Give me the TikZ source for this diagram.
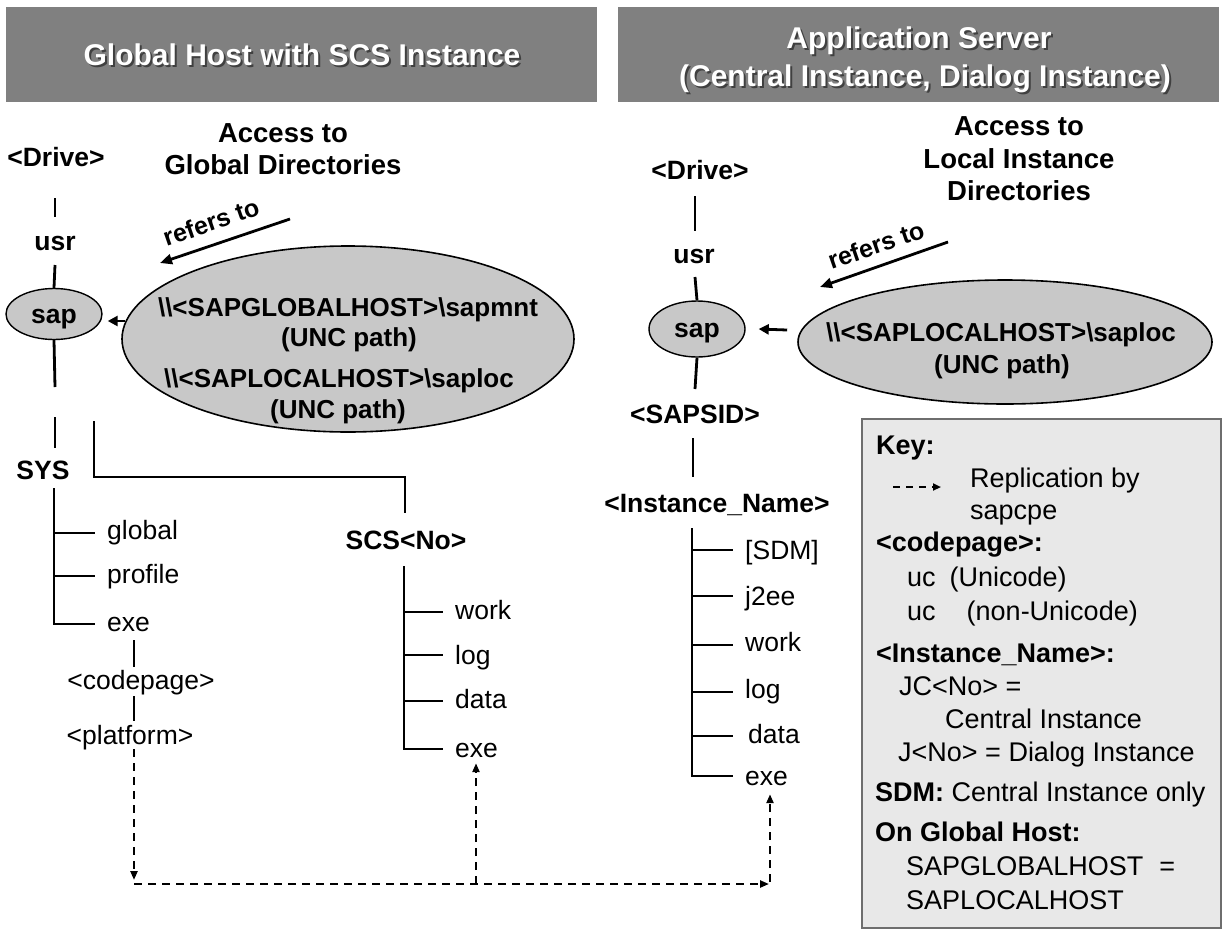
\documentclass[tikz,border=0pt]{standalone}
\usepackage{fontspec}
\setmainfont{Liberation Sans}
\usetikzlibrary{arrows.meta,shapes.geometric}
\definecolor{hdrgray}{HTML}{808080}
\definecolor{ellgray}{HTML}{C8C8C8}
\definecolor{keyfill}{HTML}{E8E8E8}
\definecolor{keyborder}{HTML}{6E6E6E}
\tikzset{
  base/.style={inner sep=0pt, text height=20pt, text depth=4pt},
  lbl/.style={base, font=\fontsize{26.5}{30}\selectfont\bfseries},
  txt/.style={base, font=\fontsize{26.5}{30}\selectfont},
  acc/.style={base, font=\fontsize{27.5}{30}\selectfont\bfseries},
  etxt/.style={base, font=\fontsize{26}{30}\selectfont\bfseries},
  ktxt/.style={base, anchor=west, font=\fontsize{27}{30}\selectfont},
  kbold/.style={base, anchor=west, font=\fontsize{27}{30}\selectfont\bfseries},
  hdr/.style={base, font=\fontsize{30}{34}\selectfont\bfseries, text=white},
  hdrsh/.style={base, font=\fontsize{30}{34}\selectfont\bfseries, text=black!75},
  hdrbox/.style={fill=hdrgray, draw=none},
  tline/.style={line width=2.8pt},
  smallell/.style={ellipse, draw, line width=1.4pt, fill=ellgray, inner sep=0pt},
  bigell/.style={ellipse, draw, line width=1.6pt, fill=ellgray, inner sep=0pt},
  refarr/.style={line width=2.8pt, -{Triangle[length=12pt,width=10pt]}},
  samarr/.style={line width=2.8pt, -{Triangle[length=10pt,width=10pt]}},
  reparr/.style={line width=2.4pt, dash pattern=on 8pt off 6pt, -{Triangle[length=9pt,width=7pt]}},
  reftxt/.style={inner sep=0pt, font=\fontsize{25}{30}\selectfont\bfseries, rotate=19},
}
\newcommand{\bs}{\textbackslash}
\begin{document}
\begin{tikzpicture}[x=1pt,y=-1pt]
\useasboundingbox (0,0) rectangle (1222,929);
\fill[white] (0,0) rectangle (1222,929);

% headers
\fill[hdrbox] (6,7) rectangle (597,102);
\fill[hdrbox] (618,7) rectangle (1219,102);
\node[hdrsh] (h1s) at (304,59) {Global Host with SCS Instance};
\node[hdr] (h1) at (302,57) {Global Host with SCS Instance};
\node[hdrsh] (h2as) at (921,42) {Application Server};
\node[hdr] (h2a) at (919,40) {Application Server};
\node[hdrsh] (h2bs) at (927,80) {(Central Instance, Dialog Instance)};
\node[hdr] (h2b) at (925,78) {(Central Instance, Dialog Instance)};

% ---------------- left side ----------------
\node[lbl] (drive1) at (56,158) {<Drive>};
\node[acc] (acc1a) at (283,134) {Access to};
\node[acc] (acc1b) at (283,166) {Global Directories};
\node[lbl] (usr1) at (55,242) {usr};
\node[smallell, minimum width=96pt, minimum height=51pt] (sap1) at (54,314) {};
\node[lbl] (sap1t) at (54,315) {sap};
\node[lbl] (sys) at (43,471) {SYS};

\coordinate (l1a) at (55,198); \coordinate (l1b) at (55,217);
\coordinate (l2a) at (55,265);
\coordinate (l3b) at (55,387);
\coordinate (l4a) at (55,417); \coordinate (l4b) at (55,448);
\draw[tline] (l1a) -- (l1b);
\draw[tline] (l2a) -- (sap1.north);
\draw[tline] (sap1.south) -- (l3b);
\draw[tline] (l4a) -- (l4b);

% big ellipse
\node[bigell, minimum width=452pt, minimum height=186pt] (E1) at (348,339) {};
\node[etxt] (e1a) at (348,308) {\bs\bs<SAPGLOBALHOST>\bs sapmnt};
\node[etxt] (e1b) at (349,338) {(UNC path)};
\node[etxt] (e1c) at (339,379) {\bs\bs<SAPLOCALHOST>\bs saploc};
\node[etxt] (e1d) at (338,410) {(UNC path)};
\draw[samarr] ([xshift=4pt,yshift=18pt]E1.west) -- ([xshift=5pt,yshift=-7pt]sap1.east);

% refers to (left)
\coordinate (r1s) at (290,219); \coordinate (r1e) at (160,263);
\draw[refarr] (r1s) -- (r1e);
\node[reftxt] (ref1) at (211,222) {refers to};

% SYS subtree
\coordinate (s0) at (54,488); \coordinate (s3) at (54,624);
\draw[tline] (s0) -- (s3) -- (95,624);
\draw[tline] (54,533) -- (95,533);
\draw[tline] (54,576) -- (95,576);
\node[txt, anchor=west] (global) at (107,531) {global};
\node[txt, anchor=west] (profile) at (107,575) {profile};
\node[txt, anchor=west] (exe1) at (107,623) {exe};
\draw[tline] (134,640) -- (134,667);
\node[txt] (codepage) at (141,681) {<codepage>};
\draw[tline] (134,696) -- (134,721);
\node[txt] (platform) at (130,736) {<platform>};

% SCS branch
\coordinate (b0) at (94,421); \coordinate (b1) at (94,477);
\coordinate (b2) at (405,477); \coordinate (b3) at (405,513);
\draw[tline] (b0) -- (b1) -- (b2) -- (b3);
\node[lbl] (scs) at (406,541) {SCS<No>};
\draw[tline] (404,566) -- (404,749) -- (443,749);
\draw[tline] (404,612) -- (443,612);
\draw[tline] (404,655) -- (443,655);
\draw[tline] (404,701) -- (443,701);
\node[txt, anchor=west] (work1) at (455,611) {work};
\node[txt, anchor=west] (log1) at (455,656) {log};
\node[txt, anchor=west] (data1) at (455,700) {data};
\node[txt, anchor=west] (exe2) at (455,749) {exe};

% ---------------- right side ----------------
\node[lbl] (drive2) at (700,171) {<Drive>};
\node[acc] (acc2a) at (1019,127) {Access to};
\node[acc] (acc2b) at (1019,160) {Local Instance};
\node[acc] (acc2c) at (1019,192) {Directories};
\node[lbl] (usr2) at (694,255) {usr};
\node[smallell, minimum width=96pt, minimum height=56pt] (sap2) at (697,329) {};
\node[lbl] (sap2t) at (697,329) {sap};
\node[lbl] (sapsid) at (695,415) {<SAPSID>};
\node[lbl] (inst) at (717,504) {<Instance\_Name>};
\draw[tline] (695,196) -- (695,231);
\draw[tline] (695,277) -- (sap2.north);
\draw[tline] (sap2.south) -- (695,389);
\draw[tline] (693,438) -- (693,477);

\node[bigell, minimum width=414pt, minimum height=124pt] (E2) at (1005,342) {};
\node[etxt] (e2a) at (1001,333) {\bs\bs<SAPLOCALHOST>\bs saploc};
\node[etxt] (e2b) at (1002,365) {(UNC path)};
\draw[samarr] ([xshift=-10pt,yshift=12pt]E2.west) -- ([xshift=13pt]sap2.east);

\coordinate (r2s) at (948,242); \coordinate (r2e) at (820,287);
\draw[refarr] (r2s) -- (r2e);
\node[reftxt] (ref2) at (876,245) {refers to};

% instance subtree
\draw[tline] (692,528) -- (692,776) -- (733,776);
\foreach \yy in {550,596,645,692,736} { \draw[tline] (692,\yy) -- (733,\yy); }
\node[txt, anchor=west] (sdm) at (745,551) {[SDM]};
\node[txt, anchor=west] (j2ee) at (745,597) {j2ee};
\node[txt, anchor=west] (work2) at (745,643) {work};
\node[txt, anchor=west] (log2) at (745,690) {log};
\node[txt, anchor=west] (data2) at (748,735) {data};
\node[txt, anchor=west] (exe3) at (745,777) {exe};

% replication (dashed)
\coordinate (d0) at (134,749);
\coordinate (c1) at (134,880);
\coordinate (c1h) at (134,884);
\coordinate (c2) at (769,884);
\coordinate (c2v) at (770,882);
\coordinate (cm) at (476,884);
\draw[reparr] (d0) -- (c1);
\draw[reparr] (c1h) -- (c2);
\draw[reparr] (c2v) -- ([yshift=-5pt]exe3.south -| c2v);
\draw[reparr] (cm) -- ([yshift=-2pt]exe2.south -| cm);

% key box
\draw[line width=1.5pt, draw=keyborder, fill=keyfill] (862,419) rectangle (1221,928);
\node[kbold] (k1) at (876,446) {Key:};
\coordinate (ka) at (893,487); \coordinate (kb) at (941,487);
\draw[line width=2.2pt, dash pattern=on 7pt off 6pt, -{Triangle[length=8pt,width=7pt]}] (ka) -- (kb);
\node[ktxt] (k2) at (970,479) {Replication by};
\node[ktxt] (k3) at (970,511) {sapcpe};
\node[kbold] (k4) at (876,543) {<codepage>:};
\node[ktxt] (k5) at (907,578) {uc\hspace{14pt}(Unicode)};
\node[ktxt] (k6) at (907,612) {uc\hspace{31pt}(non-Unicode)};
\node[kbold] (k7) at (876,654) {<Instance\_Name>:};
\node[ktxt] (k8) at (899,687) {JC<No> =};
\node[ktxt] (k9) at (945,720) {Central Instance};
\node[ktxt] (k10) at (898,753) {J<No> = Dialog Instance};
\node[ktxt] (k11) at (875,793) {\textbf{SDM:} Central Instance only};
\node[kbold] (k12) at (875,833) {On Global Host:};
\node[ktxt] (k13) at (906,867) {SAPGLOBALHOST\hspace{16pt}=};
\node[ktxt] (k14) at (906,901) {SAPLOCALHOST};
\end{tikzpicture}
\end{document}
